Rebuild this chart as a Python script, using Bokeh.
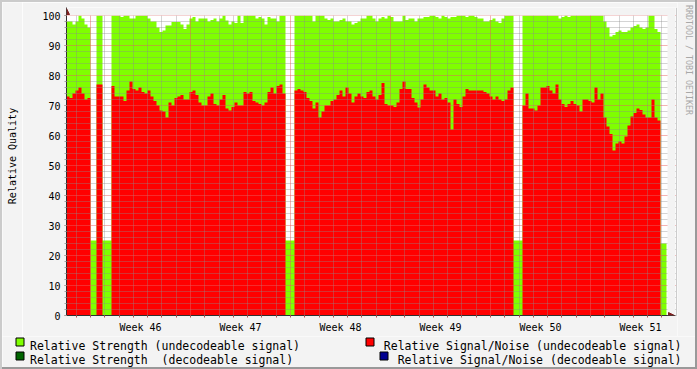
from math import pi
from bokeh.plotting import figure
from bokeh.layouts import row, column
from bokeh.models import (Range1d, FixedTicker, Grid, BoxAnnotation, Arrow,
                          NormalHead, Spacer)
from bokeh.core.properties import value
from bokeh.embed import file_html
from bokeh.resources import INLINE

# ---------------- data ----------------
week_labels = ["Week 46", "Week 47", "Week 48", "Week 49", "Week 50", "Week 51"]
week_mid_hours = [84, 252, 420, 588, 756, 924]

y_title = "Relative Quality"
watermark = "RRDTOOL / TOBI OETIKER"
legend_labels = [
    "Relative Strength (undecodeable signal)",
    "Relative Strength\u00a0 (decodeable signal)",
    "Relative Signal/Noise (undecodeable signal)",
    "Relative Signal/Noise (decodeable signal)",
]

# relative strength (top of the green area), one sample every 5.04 h
strength = [
    98, 98, 97, 98, 100, 99, 97, 96, 25, 25,
    100, 100, 25, 25, 25, 100, 100, 100, 99.5, 100,
    100, 99, 99, 100, 100, 100, 100, 99, 98, 98,
    96, 94.5, 95, 96.7, 96.7, 97.8, 97.8, 97.8, 97, 95.5,
    97, 99, 99.5, 98, 99, 99, 99, 98, 98.5, 99,
    98, 99, 100, 98.3, 97, 98, 97.5, 100, 97.5, 100,
    100, 100, 100, 99, 99.5, 99, 97, 99.5, 99, 99,
    98, 100, 100, 25, 25, 25, 100, 100, 100, 100,
    100, 100, 98, 100, 100, 100, 99, 98.5, 99, 98,
    98, 98.5, 99, 98, 98, 97, 97.5, 98, 99, 99,
    100, 100, 99, 98, 99, 99.5, 99, 100, 99.5, 98,
    98, 98, 100, 98.5, 99, 99, 98, 99, 99, 99.5,
    99.5, 100, 100, 99.5, 99, 100, 99.5, 99, 99.5, 99.5,
    100, 100, 100, 99.5, 100, 100, 99.5, 99, 99, 98,
    98, 98.5, 99, 98, 97.5, 99, 100, 100, 100, 25,
    25, 25, 100, 100, 100, 100, 100, 100, 100, 100,
    100, 100, 100, 100, 99, 99.5, 100, 99.5, 100, 100,
    100, 100, 100, 100, 100, 100, 100, 100, 100, 98,
    96, 93, 93.5, 94.5, 95, 94.5, 94.5, 95, 96, 96.5,
    97, 96, 95.5, 96, 100, 100, 95.5, 94.5, 24, 24,
]

# relative signal/noise (top of the red area)
snr = [
    73, 72.5, 74, 75, 76, 74, 72, 72.5, 0, 0,
    77, 77, 0, 0, 0, 76.5, 73, 73, 73, 71.5,
    75, 78, 75.5, 75, 76, 74.5, 74, 75, 73, 71.5,
    70, 68.3, 68, 66, 71, 70, 72.5, 73, 73.5, 72,
    72, 74.5, 75, 73.5, 71, 70, 70, 73, 74, 70.5,
    70, 72, 73.5, 69, 68.3, 69.5, 71, 70, 70, 74.5,
    74, 74.5, 71.5, 71, 70.5, 70, 71, 74.5, 76, 74,
    76.5, 77, 74, 0, 0, 0, 75, 75.5, 75, 74.5,
    72.5, 71.5, 69, 71, 66, 68, 70, 70, 71.5, 72,
    73.5, 75, 73, 76, 74, 71, 73, 74, 73, 72.5,
    74.5, 75, 73, 72, 73.5, 77.5, 70.5, 70, 70, 69.5,
    71, 75.5, 78, 75.5, 75.5, 72.5, 71, 69.3, 72, 77,
    76, 75, 75, 73, 74, 72, 72.5, 71, 62, 72,
    70.5, 69.5, 73, 75.5, 75, 75, 75, 75, 75, 74.5,
    74, 73, 72, 73, 72, 71.5, 72, 75, 76, 0,
    0, 0, 70, 74, 69, 69, 68.3, 70, 76, 76,
    76.5, 75, 74, 77, 72, 70.5, 69.5, 70.5, 71.5, 70.5,
    70, 68, 72, 72, 71.5, 71, 76, 72, 74, 66,
    63, 60.5, 55, 57.3, 58, 57.3, 59.7, 63.3, 66.3, 67.5,
    69, 68.5, 67, 66, 66, 72, 66, 65, 0, 0,
]

START_H = -40.32   # hours relative to start of week 46 (left edge of the graph)
STEP_H = 5.04      # hours per sample
H_PER_PX = 1.68    # 100 px per week

# ---------------- layout (page pixels) ----------------
PAGE_W, PAGE_H = 697, 369
BRD = 2
FIG_W = PAGE_W - 2 * BRD
CANVAS_L, CANVAS_R, CANVAS_T, CANVAS_B = 66, 667, 15, 315
FRAME_R, FRAME_T = 675, 7
CHART_BOTTOM = 336
YT_RIGHT = 22        # right edge of the y-title strip
WM_LEFT = 677        # left edge of the watermark strip


def px2x(px):
    return START_H + (px - CANVAS_L) * H_PER_PX


def py2y(py):
    return (CANVAS_B - py) / 3.0


FONT = "DejaVu Sans Mono"
BG = "#F3F3F3"
GREEN = "#7FFF00"
RED = "#FF0000"
DKGREEN = "#006400"
BLUE = "#000090"
AXIS = "#303030"
ARROWC = "#7F1F1F"

x_end = px2x(FRAME_R)
y_end = py2y(FRAME_T)


def strip(x_lo, x_hi, y_lo, y_hi):
    """A figure whose frame covers its whole area, in page pixel coordinates
    (y measured upward from the page bottom)."""
    f = figure(width=x_hi - x_lo, height=y_hi - y_lo,
               x_range=Range1d(x_lo, x_hi), y_range=Range1d(PAGE_H - y_hi, PAGE_H - y_lo),
               output_backend="svg", toolbar_location=None,
               x_axis_type=None, y_axis_type=None,
               min_border=0, min_border_left=0, min_border_right=0,
               min_border_top=0, min_border_bottom=0,
               background_fill_color=BG, border_fill_color=BG, outline_line_color=None)
    return f


# ---------------- main chart ----------------
p = figure(width=WM_LEFT - YT_RIGHT, height=CHART_BOTTOM - BRD,
           x_range=Range1d(START_H, x_end), y_range=Range1d(0, y_end),
           output_backend="svg", toolbar_location=None,
           min_border_left=CANVAS_L - YT_RIGHT, min_border_right=WM_LEFT - FRAME_R,
           min_border_top=FRAME_T - BRD, min_border_bottom=CHART_BOTTOM - CANVAS_B,
           background_fill_color="white", border_fill_color=BG,
           outline_line_color=None)
p.xgrid.visible = False
p.ygrid.visible = False

n = len(strength)
edges = [START_H + i * STEP_H for i in range(n + 1)]
s_vals = strength + [strength[-1]]
r_vals = snr + [snr[-1]]
p.varea_step(x=edges, y1=[0] * (n + 1), y2=s_vals, step_mode="after", fill_color=GREEN)
p.varea_step(x=edges, y1=[0] * (n + 1), y2=r_vals, step_mode="after", fill_color=RED)

# grids drawn over the data, rrdtool style
day_ticks = [h for h in range(-24, 1000, 24) if h % 168 != 0]
week_ticks = [h for h in range(0, 1000, 168)]
y_minor = [v for v in range(2, 101, 2) if v % 10 != 0]
y_major = list(range(10, 101, 10))
for dim, ticks, col, alpha in [(0, day_ticks, "#8C8C8C", 0.75), (1, y_minor, "#8C8C8C", 0.75),
                               (0, week_ticks, "#E86060", 0.95), (1, y_major, "#E86060", 0.95)]:
    p.add_layout(Grid(dimension=dim, ticker=FixedTicker(ticks=ticks), grid_line_color=col,
                      grid_line_alpha=alpha, grid_line_dash="1 1", level="annotation"))

# grey margin beyond the graph canvas (top and right), as in rrdtool
p.add_layout(BoxAnnotation(left=START_H, right=x_end, bottom=100, top=y_end,
                           fill_color=BG, fill_alpha=1, line_color=None, level="annotation"))
p.add_layout(BoxAnnotation(left=px2x(CANVAS_R), right=x_end, bottom=0, top=y_end,
                           fill_color=BG, fill_alpha=1, line_color=None, level="annotation"))

# axis arrows
p.add_layout(Arrow(x_start=START_H, y_start=100, x_end=START_H, y_end=py2y(8),
                   line_color=AXIS, line_width=1, level="annotation",
                   end=NormalHead(size=6, fill_color=ARROWC, line_color=ARROWC)))
p.add_layout(Arrow(x_start=px2x(CANVAS_R), y_start=0, x_end=px2x(674), y_end=0,
                   line_color=AXIS, line_width=1, level="annotation",
                   end=NormalHead(size=6, fill_color=ARROWC, line_color=ARROWC)))

# x axis
xa = p.xaxis[0]
xa.ticker = FixedTicker(ticks=week_mid_hours, minor_ticks=list(range(-24, 969, 24)))
xa.major_label_overrides = {h: lab for h, lab in zip(week_mid_hours, week_labels)}
xa.major_tick_out = 0
xa.major_tick_in = 0
xa.minor_tick_out = 2
xa.minor_tick_in = 0
xa.minor_tick_line_color = "#B05050"
xa.axis_line_color = AXIS
xa.major_label_standoff = 4
xa.major_label_text_font = FONT
xa.major_label_text_font_size = "10px"
xa.major_label_text_color = "black"

# y axis
ya = p.yaxis[0]
ya.ticker = FixedTicker(ticks=list(range(0, 101, 10)), minor_ticks=list(range(0, 101, 2)))
ya.major_tick_out = 2
ya.major_tick_in = 0
ya.minor_tick_out = 2
ya.minor_tick_in = 0
ya.major_tick_line_color = "#D07070"
ya.minor_tick_line_color = "#A0A0A0"
ya.axis_line_color = AXIS
ya.major_label_standoff = 4
ya.major_label_text_font = FONT
ya.major_label_text_font_size = "10px"
ya.major_label_text_color = "black"

# ---------------- y title strip (left) ----------------
yt = strip(BRD, YT_RIGHT, BRD, CHART_BOTTOM)
yt.text(x=[11.5], y=[PAGE_H - 155.5], text=[y_title], angle=pi / 2,
        text_align="center", text_baseline="middle",
        text_font=value(FONT), text_font_size=value("10px"), text_color="black")

# ---------------- watermark strip (right) ----------------
wm = strip(WM_LEFT, BRD + FIG_W, BRD, CHART_BOTTOM)
wm.text(x=[688], y=[PAGE_H - 4.5], text=[watermark], angle=-pi / 2,
        text_align="left", text_baseline="middle",
        text_font=value(FONT), text_font_size=value("8.3px"), text_color="#A8A8A8")

# ---------------- legend strip ----------------
q = strip(BRD, BRD + FIG_W, CHART_BOTTOM, PAGE_H - BRD)
legend_colors = [GREEN, DKGREEN, RED, BLUE]
box_left = [15.5, 15.5, 365.5, 379.5]
box_top = [337.5, 351.5, 337.5, 351.5]
q.quad(left=box_left, right=[b + 8 for b in box_left],
       top=[PAGE_H - b for b in box_top], bottom=[PAGE_H - b - 8 for b in box_top],
       fill_color=legend_colors, line_color="black", line_width=1)
text_x = [29.5, 29.5, 681, 681]
text_y = [345.7, 359.7, 345.7, 359.7]
for tx, ty, lab, al in zip(text_x, text_y, legend_labels, ["left", "left", "right", "right"]):
    q.text(x=[tx], y=[PAGE_H - ty], text=[lab], text_align=al, text_baseline="alphabetic",
           text_font=value(FONT), text_font_size=value("11.5px"), text_color="black")

# keep each figure's frame where it is set, do not align frames across the layout
for fig in (p, q, yt, wm):
    if "frame_align" in fig.properties():
        fig.frame_align = False

# rrdtool style 3d border
left_sp = Spacer(width=BRD, height=PAGE_H, styles={"background-color": "#CBCBCB"})
right_sp = Spacer(width=BRD, height=PAGE_H, styles={"background-color": "#999999"})
top_sp = Spacer(width=FIG_W, height=BRD, styles={"background-color": "#CBCBCB"})
bot_sp = Spacer(width=FIG_W, height=BRD, styles={"background-color": "#999999"})

layout = row(left_sp,
             column(top_sp, row(yt, p, wm, spacing=0), row(q, spacing=0), bot_sp, spacing=0),
             right_sp, spacing=0)

open("out.html", "w").write(file_html(layout, INLINE))
